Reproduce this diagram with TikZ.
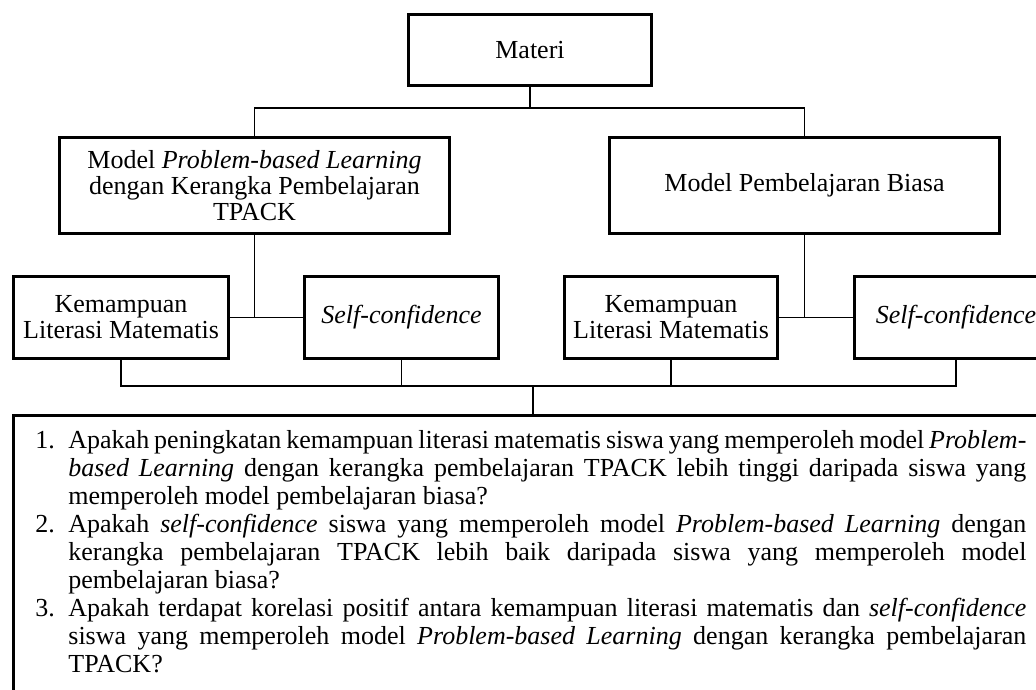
\documentclass[tikz,border=0pt]{standalone}
\usepackage{fontspec}
\setmainfont{Liberation Serif}
\begin{document}
\begin{tikzpicture}[x=0.5pt,y=-0.5pt,
  box/.style={draw, line width=1.5pt, align=center, inner sep=2pt,
    font=\fontsize{13pt}{13pt}\selectfont},
  conn/.style={line width=0.9pt}]
\useasboundingbox (0,0) rectangle (1036,689);
\fill[white] (0,0) rectangle (1036,689);
\clip (0,0) rectangle (1036,689);

% boxes
\node[box, minimum width=121.5pt, minimum height=35.5pt] (materi) at (530,50) {Materi};
\node[box, minimum width=195pt, minimum height=48pt] (pbl) at (254.5,185.5)
  {Model \textit{Problem-based Learning}\\dengan Kerangka Pembelajaran\\TPACK};
\node[box, minimum width=195pt, minimum height=48pt] (biasa) at (804.5,185.5)
  {Model Pembelajaran Biasa};
\node[box, minimum width=107.5pt, minimum height=41pt] (klm1) at (121,317.5)
  {Kemampuan\\Literasi Matematis};
\node[box, minimum width=97pt, minimum height=41pt] (sc1) at (401.5,317.5)
  {\textit{Self-confidence}};
\node[box, minimum width=106.5pt, minimum height=41pt] (klm2) at (671,317.5)
  {Kemampuan\\Literasi Matematis};
\node[box, minimum width=102pt, minimum height=41pt] (sc2) at (956,317.5)
  {\textit{Self-confidence}};
\node[draw, line width=1.5pt, minimum width=517.5pt, minimum height=142pt, inner sep=0pt]
  (rq) at (531,557.5) {};

% research questions text
\newcommand{\rqfull}[1]{\hbox to 479pt{#1}}
\newcommand{\rqlab}[1]{\noindent\makebox[16.5pt][l]{#1}}
\newcommand{\rqind}{\noindent\hspace*{16.5pt}}
\node[anchor=north west, inner sep=0pt] (rqtext) at (35,430) {%
\begin{minipage}{495.5pt}
\fontsize{13pt}{14pt}\selectfont
\rqlab{1.}\rqfull{Apakah peningkatan kemampuan literasi matematis siswa yang memperoleh model \textit{Problem-}}\par
\rqind\rqfull{\textit{based Learning} dengan kerangka pembelajaran TPACK lebih tinggi daripada siswa yang}\par
\rqind memperoleh model pembelajaran biasa?\par
\rqlab{2.}\rqfull{Apakah \textit{self-confidence} siswa yang memperoleh model \textit{Problem-based Learning} dengan}\par
\rqind\rqfull{kerangka pembelajaran TPACK lebih baik daripada siswa yang memperoleh model}\par
\rqind pembelajaran biasa?\par
\rqlab{3.}\rqfull{Apakah terdapat korelasi positif antara kemampuan literasi matematis dan \textit{self-confidence}}\par
\rqind\rqfull{siswa yang memperoleh model \textit{Problem-based Learning} dengan kerangka pembelajaran}\par
\rqind TPACK?\par
\end{minipage}};

% connectors
\coordinate (j1) at (529,108);
\coordinate (busy) at (0,386);
\draw[conn] (materi.south) -- (materi.south |- j1);
\draw[conn] (pbl.north) |- (j1) -| (biasa.north);
\draw[conn] (klm1.east) -- (sc1.west);
\draw[conn] (pbl.south) -- (pbl.south |- klm1.east);
\draw[conn] (klm2.east) -- (sc2.west);
\draw[conn] (biasa.south) -- (biasa.south |- klm2.east);
\draw[conn] (klm1.south) -- (klm1.south |- busy) -- (sc2.south |- busy) -- (sc2.south);
\draw[conn] (sc1.south) -- (sc1.south |- busy);
\draw[conn] (klm2.south) -- (klm2.south |- busy);
\draw[conn] (rq.north -| 533,0) -- (busy -| 533,0);
\end{tikzpicture}
\end{document}
